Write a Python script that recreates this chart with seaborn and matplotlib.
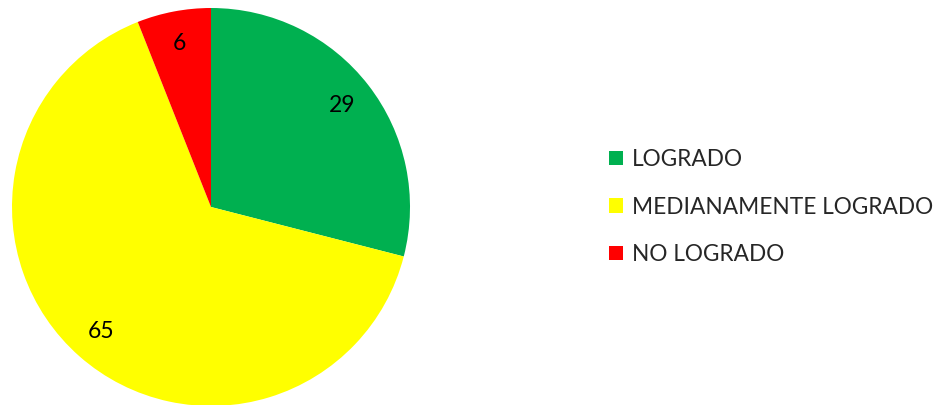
import matplotlib
matplotlib.use("Agg")
import matplotlib.pyplot as plt
import seaborn as sns

categories = ["LOGRADO", "MEDIANAMENTE LOGRADO", "NO LOGRADO"]
values = [29, 65, 6]
colors = ["#00B050", "#FFFF00", "#FF0000"]

sns.set_theme(style="white")
plt.rcParams["font.family"] = ["Lato", "DejaVu Sans"]

W, H = 939, 405
fig = plt.figure(figsize=(W / 100, H / 100), dpi=100)
fig.patch.set_facecolor("white")

# pie axes: square box of 398 px centred at (211, 207) from top-left
r = 199
cx, cy = 211, 207
ax = fig.add_axes([(cx - r) / W, (H - cy - r) / H, 2 * r / W, 2 * r / H])
wedges, texts = ax.pie(
    values,
    colors=colors,
    startangle=90,
    counterclock=False,
    labels=[str(v) for v in values],
    labeldistance=0.835,
    wedgeprops=dict(linewidth=0),
    textprops=dict(fontsize=16.5, color="black", ha="center", va="center"),
)
ax.set_xlim(-1, 1)
ax.set_ylim(-1, 1)
ax.set_aspect("equal")
ax.axis("off")

fig.legend(
    wedges,
    categories,
    loc="center left",
    bbox_to_anchor=(600 / W, (H - 207) / H),
    frameon=False,
    fontsize=16.3,
    handlelength=0.6,
    handleheight=0.6,
    handletextpad=0.4,
    labelspacing=1.16,
    borderaxespad=0,
)

fig.savefig("out.png", dpi=100, facecolor="white")
